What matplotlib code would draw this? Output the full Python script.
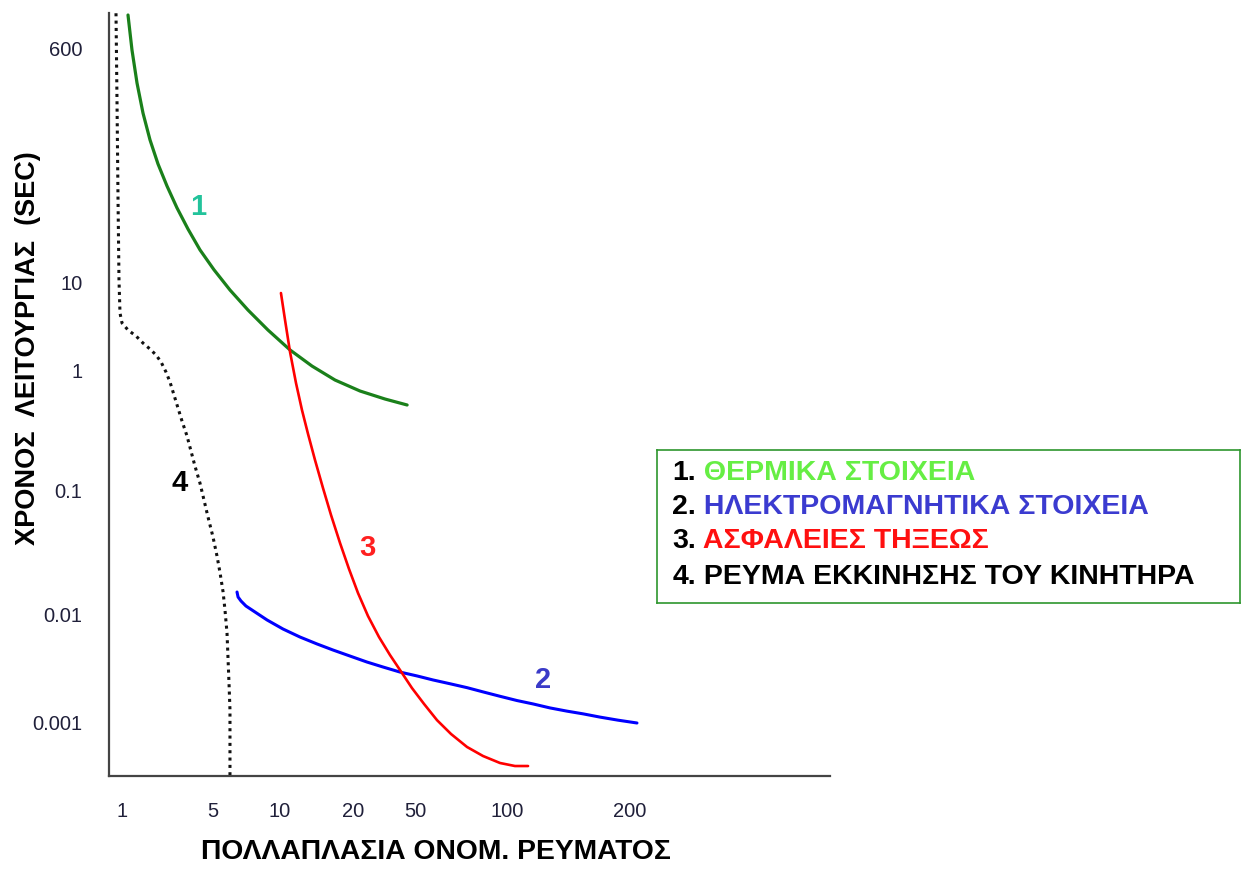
import numpy as np
import matplotlib.pyplot as plt

plt.rcParams['font.family'] = ['Liberation Sans', 'DejaVu Sans']

# multiples of rated current (x) and operating time in seconds (t)
thermal_x = [1.112, 1.193, 1.304, 1.450, 1.641, 1.890, 2.216, 2.645, 3.213, 3.973,
             5.05, 5.96, 7.18, 8.83, 11.0, 13.55, 16.86, 22.2, 32.1, 44.5]
thermal_t = [1067, 580, 326, 193, 121, 79.6, 54.2, 37.0, 25.6, 17.8,
             12.6, 8.31, 4.89, 2.88, 1.70, 1.11, 0.825, 0.668, 0.573, 0.511]

magnetic_x = [6.41, 6.48, 6.68, 7.03, 7.72, 8.75, 10.29, 12.09, 14.21, 16.54,
              19.44, 24.60, 31.16, 40.06, 50.76, 57.28, 65.10, 73.99, 83.48,
              94.87, 105.8, 115.8, 127.4, 140.3, 153.5, 168.9, 186.9, 208.0]
magnetic_t = [0.01504, 0.01371, 0.01273, 0.01160, 0.01038, 0.00880, 0.00726,
              0.00612, 0.00528, 0.00464, 0.00408, 0.00359, 0.00323, 0.00290,
              0.00267, 0.00245, 0.00226, 0.00208, 0.00190, 0.00173, 0.00158,
              0.00147, 0.00135, 0.00126, 0.00119, 0.00111, 0.00104, 0.000979]

fuse_x = [10.09, 10.49, 11.0, 11.64, 12.32, 13.05, 13.94, 15.04, 16.23, 17.68,
          19.25, 21.53, 24.96, 29.37, 34.55, 40.06, 47.83, 53.52, 59.02, 65.60,
          73.99, 83.48, 94.87, 104.6, 112.6]
fuse_t = [7.67, 3.75, 1.61, 0.779, 0.464, 0.293, 0.178, 0.1039, 0.0629, 0.0374,
          0.0231, 0.01477, 0.00958, 0.00612, 0.00417, 0.00303, 0.00206, 0.00147,
          0.00104, 0.000774, 0.000587, 0.000484, 0.000417, 0.000391, 0.000391]

start_x = [0.899, 0.915, 0.932, 0.948, 0.965, 1.0, 1.112, 1.281, 1.450, 1.641,
           1.824, 1.993, 2.177, 2.337, 2.508, 2.692, 2.889, 3.157, 3.388, 3.636,
           3.973, 4.264, 4.576, 5.0, 5.21, 5.38, 5.55, 5.66, 5.78, 5.84, 5.90,
           5.96, 5.96, 5.96]
start_t = [1100, 242.5, 42.5, 10.55, 4.52, 3.47, 2.88, 2.46, 2.04, 1.74,
           1.49, 1.24, 0.962, 0.794, 0.619, 0.482, 0.376, 0.282, 0.211, 0.158,
           0.114, 0.0830, 0.0606, 0.0418, 0.0294, 0.0214, 0.01504, 0.01077,
           0.00667, 0.00391, 0.00230, 0.00129, 0.000681, 0.000316]

x_ticks = [1, 5, 10, 20, 50, 100, 200]
x_labels = ['1', '5', '10', '20', '50', '100', '200']
y_ticks = [0.001, 0.01, 0.1, 1, 10, 600]
y_labels = ['0.001', '0.01', '0.1', '1', '10', '600']

legend_nums = ['1.', '2.', '3.', '4.']
legend_names = ['ΘΕΡΜΙΚΑ ΣΤΟΙΧΕΙΑ', 'ΗΛΕΚΤΡΟΜΑΓΝΗΤΙΚΑ ΣΤΟΙΧΕΙΑ',
                'ΑΣΦΑΛΕΙΕΣ ΤΗΞΕΩΣ', 'ΡΕΥΜΑ ΕΚΚΙΝΗΣΗΣ ΤΟΥ ΚΙΝΗΤΗΡΑ']
legend_colors = ['#66ee44', '#3b3bd0', '#ff1010', 'black']

# the drawing uses an uneven "log-like" axis: anchor values -> axis length
x_anchor_val = [0.794, 1, 5, 10, 20, 50, 100, 200, 616]
x_anchor_pos = [0, 13, 104, 171, 244, 306, 398, 521, 721]
y_anchor_val = [0.000316, 0.001, 0.01, 0.1, 1, 10, 600, 1105]
y_anchor_pos = [0, 54, 162, 286, 406, 493, 728, 763]


def make_scale(vals, pos):
    logs = np.log10(vals)

    def forward(v):
        v = np.clip(np.asarray(v, dtype=float), 1e-12, None)
        return np.interp(np.log10(v), logs, pos)

    def inverse(p):
        return 10 ** np.interp(np.asarray(p, dtype=float), pos, logs)

    return forward, inverse


fig = plt.figure(figsize=(12.44, 8.73), dpi=100)
ax = fig.add_axes([109 / 1244, 97 / 873, 721 / 1244, 763 / 873])

ax.set_xscale('function', functions=make_scale(x_anchor_val, x_anchor_pos))
ax.set_yscale('function', functions=make_scale(y_anchor_val, y_anchor_pos))
ax.set_xlim(x_anchor_val[0], x_anchor_val[-1])
ax.set_ylim(y_anchor_val[0], y_anchor_val[-1])

ax.plot(thermal_x, thermal_t, color='#1a801a', lw=2.3, solid_capstyle='round')
ax.plot(magnetic_x, magnetic_t, color='#0000ff', lw=2.2, solid_capstyle='round')
ax.plot(fuse_x, fuse_t, color='#ff0000', lw=1.9, solid_capstyle='round')
ax.plot(start_x, start_t, color='#111111', lw=2.2, linestyle=(0, (1, 1.4)))

# curve numbers
ax.text(3.84, 37.6, '1', color='#22c39b', fontsize=21, fontweight='bold', ha='center', va='center')
ax.text(122.5, 0.00245, '2', color='#3a3ac8', fontsize=21, fontweight='bold', ha='center', va='center')
ax.text(24.6, 0.034, '3', color='#ff2020', fontsize=21, fontweight='bold', ha='center', va='center')
ax.text(2.79, 0.114, '4', color='black', fontsize=21, fontweight='bold', ha='center', va='center')

ax.set_xticks(x_ticks, labels=x_labels)
ax.set_yticks(y_ticks, labels=y_labels)
ax.minorticks_off()
ax.tick_params(axis='x', length=0, pad=19, labelsize=14.5, labelcolor='#20203a')
ax.tick_params(axis='y', length=0, pad=19, labelsize=14.5, labelcolor='#20203a')

for side in ['top', 'right']:
    ax.spines[side].set_visible(False)
for side in ['left', 'bottom']:
    ax.spines[side].set_color('#444444')
    ax.spines[side].set_linewidth(1.6)

ax.set_xlabel('ΠΟΛΛΑΠΛΑΣΙΑ ΟΝΟΜ. ΡΕΥΜΑΤΟΣ', fontsize=20.3, fontweight='bold', va='center')
ax.xaxis.set_label_coords(0.4535, -0.0996)
ax.set_ylabel('ΧΡΟΝΟΣ  ΛΕΙΤΟΥΡΓΙΑΣ  (SEC)', fontsize=19.5, fontweight='bold', va='center')
ax.yaxis.set_label_coords(-0.113, 0.561)

# legend box
lax = fig.add_axes([657 / 1244, 270 / 873, 583 / 1244, 153 / 873])
lax.set_xticks([])
lax.set_yticks([])
for s in lax.spines.values():
    s.set_color('#2e962e')
    s.set_linewidth(1.2)
row_y = [0.85, 0.627, 0.405, 0.17]
for num, name, col, yy in zip(legend_nums, legend_names, legend_colors, row_y):
    t = lax.text(0.026, yy, num, fontsize=20.5, fontweight='bold', color='black', va='center')
    lax.annotate(' ' + name, xy=(1, 0), xycoords=t, va='bottom', ha='left',
                 fontsize=20.5, fontweight='bold', color=col)

fig.savefig('out.png', dpi=100)
